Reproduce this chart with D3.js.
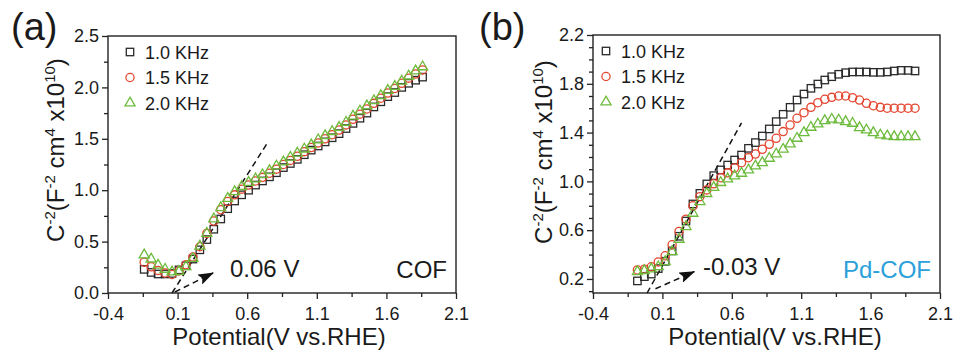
<!DOCTYPE html>
<html>
<head>
<meta charset="utf-8">
<script src="https://cdn.jsdelivr.net/npm/d3@7"></script>
<style>
  body { margin: 0; background: #fff; }
  text { font-family: "Liberation Sans", Arial, sans-serif; fill: #1a1a1a; }
</style>
</head>
<body>
<div id="chart"></div>
<script>
// potential values (V vs RHE) and C^-2 values (x1e10)
var potA = [-0.14, -0.09, -0.04, 0.01, 0.06, 0.11, 0.16, 0.21, 0.26, 0.31,
            0.36, 0.41, 0.46, 0.51, 0.56, 0.61, 0.66, 0.71, 0.76, 0.81,
            0.86, 0.91, 0.96, 1.01, 1.06, 1.11, 1.16, 1.21, 1.26, 1.31,
            1.36, 1.41, 1.46, 1.51, 1.56, 1.61, 1.66, 1.71, 1.76, 1.81, 1.86];
var cof10 = [0.23, 0.20, 0.185, 0.185, 0.19, 0.225, 0.265, 0.33, 0.42, 0.52,
             0.62, 0.72, 0.82, 0.895, 0.955, 1.00, 1.05, 1.09, 1.13, 1.17,
             1.22, 1.26, 1.30, 1.345, 1.39, 1.43, 1.47, 1.51, 1.55, 1.60,
             1.65, 1.70, 1.75, 1.81, 1.86, 1.91, 1.95, 2.00, 2.04, 2.07, 2.10];
var cof15 = [0.30, 0.255, 0.22, 0.195, 0.18, 0.215, 0.275, 0.35, 0.45, 0.58,
             0.70, 0.81, 0.89, 0.955, 1.01, 1.05, 1.09, 1.125, 1.165, 1.205,
             1.25, 1.29, 1.33, 1.375, 1.415, 1.46, 1.50, 1.54, 1.585, 1.635,
             1.69, 1.74, 1.79, 1.845, 1.895, 1.945, 1.99, 2.04, 2.09, 2.13, 2.17];
var cof20 = [0.37, 0.33, 0.27, 0.23, 0.205, 0.21, 0.255, 0.335, 0.455, 0.58,
             0.72, 0.83, 0.92, 0.985, 1.035, 1.075, 1.11, 1.15, 1.19, 1.235,
             1.275, 1.32, 1.36, 1.40, 1.44, 1.49, 1.53, 1.57, 1.61, 1.66,
             1.72, 1.77, 1.82, 1.87, 1.92, 1.97, 2.01, 2.06, 2.11, 2.16, 2.20];

var potB = [-0.08, -0.03, 0.02, 0.07, 0.12, 0.17, 0.22, 0.27, 0.32, 0.37,
            0.42, 0.47, 0.52, 0.57, 0.62, 0.67, 0.72, 0.77, 0.82, 0.87,
            0.92, 0.97, 1.02, 1.07, 1.12, 1.17, 1.22, 1.27, 1.32, 1.37,
            1.42, 1.47, 1.52, 1.57, 1.62, 1.67, 1.72, 1.77, 1.82, 1.87, 1.92];
var pd10 = [0.184, 0.219, 0.24, 0.285, 0.345, 0.43, 0.55, 0.675, 0.815, 0.902,
            0.979, 1.047, 1.094, 1.134, 1.175, 1.216, 1.271, 1.318, 1.372, 1.43,
            1.49, 1.55, 1.607, 1.667, 1.716, 1.763, 1.798, 1.831, 1.858, 1.878,
            1.891, 1.897, 1.897, 1.897, 1.894, 1.894, 1.897, 1.905, 1.91, 1.91, 1.905];
var pd15 = [0.274, 0.28, 0.30, 0.34, 0.39, 0.48, 0.59, 0.69, 0.80, 0.875,
            0.93, 0.98, 1.03, 1.07, 1.11, 1.153, 1.194, 1.224, 1.263, 1.304,
            1.353, 1.408, 1.462, 1.517, 1.563, 1.607, 1.645, 1.673, 1.689, 1.70,
            1.70, 1.686, 1.667, 1.64, 1.62, 1.607, 1.60, 1.60, 1.60, 1.60, 1.60];
var pd20 = [0.26, 0.268, 0.282, 0.30, 0.342, 0.424, 0.525, 0.629, 0.738, 0.834,
            0.90, 0.95, 0.99, 1.02, 1.045, 1.066, 1.093, 1.126, 1.153, 1.189,
            1.224, 1.263, 1.307, 1.353, 1.399, 1.443, 1.47, 1.498, 1.509, 1.503,
            1.489, 1.476, 1.44, 1.421, 1.399, 1.38, 1.372, 1.366, 1.366, 1.366, 1.366];

var freqLabels = ["1.0 KHz", "1.5 KHz", "2.0 KHz"];
var xTicks = [-0.4, 0.1, 0.6, 1.1, 1.6, 2.1];
var xMinor = [-0.15, 0.35, 0.85, 1.35, 1.85];
var yTicksA = [0.0, 0.5, 1.0, 1.5, 2.0, 2.5];
var yMinorA = [0.25, 0.75, 1.25, 1.75, 2.25];
var yTicksB = [0.2, 0.6, 1.0, 1.4, 1.8, 2.2];
var yMinorB = [0.1, 0.3, 0.4, 0.5, 0.7, 0.8, 0.9, 1.1, 1.2, 1.3, 1.5, 1.6, 1.7, 1.9, 2.0, 2.1];

// dashed tangent and arrow, in data units
var tangentA = [[0.06, 0.0], [0.75, 1.47]];
var arrowA = [[0.08, 0.01], [0.355, 0.195]];
var tangentB = [[-0.01, 0.085], [0.67, 1.48]];
var arrowB = [[0.05, 0.12], [0.33, 0.26]];

var colors = ["#2a2a2a", "#e4452f", "#6dbb3c"];

var svg = d3.select("#chart").append("svg")
    .attr("width", 956)
    .attr("height", 356);

svg.append("rect").attr("width", 956).attr("height", 356).attr("fill", "#fff");

var defs = svg.append("defs");
defs.append("marker")
    .attr("id", "arrowhead")
    .attr("viewBox", "0 0 16 11")
    .attr("refX", 15).attr("refY", 5.5)
    .attr("markerUnits", "userSpaceOnUse")
    .attr("markerWidth", 16).attr("markerHeight", 11)
    .attr("orient", "auto")
    .append("path")
    .attr("d", "M0,0 L16,5.5 L0,11 L3,5.5 Z")
    .attr("fill", "#111");

function drawMarker(g, kind, cx, cy, color) {
    if (kind == 0) {
        g.append("rect")
            .attr("x", cx - 3.7).attr("y", cy - 3.7)
            .attr("width", 7.4).attr("height", 7.4)
            .attr("fill", "none").attr("stroke", color).attr("stroke-width", 1.3);
    } else if (kind == 1) {
        g.append("circle")
            .attr("cx", cx).attr("cy", cy).attr("r", 4.1)
            .attr("fill", "none").attr("stroke", color).attr("stroke-width", 1.3);
    } else {
        g.append("path")
            .attr("d", d3.symbol(d3.symbolTriangle).size(44)())
            .attr("transform", "translate(" + cx + "," + cy + ")")
            .attr("fill", "none").attr("stroke", color).attr("stroke-width", 1.3);
    }
}

function drawPanel(p) {
    var x = d3.scaleLinear().domain([-0.4, 2.1]).range([p.left, p.right]);
    var y = d3.scaleLinear().domain(p.yDomain).range([p.bottom, p.top]);
    var g = svg.append("g");
    var fmt = function(d) { return d.toFixed(1); };

    // minor ticks
    g.append("g")
        .attr("transform", "translate(0," + p.bottom + ")")
        .call(d3.axisBottom(x).tickValues(xMinor).tickSize(4).tickFormat(""))
        .call(function(a) { a.select(".domain").remove(); });
    g.append("g")
        .attr("transform", "translate(" + p.left + ",0)")
        .call(d3.axisLeft(y).tickValues(p.yMinor).tickSize(4).tickFormat(""))
        .call(function(a) { a.select(".domain").remove(); });

    // major ticks
    var xa = g.append("g")
        .attr("transform", "translate(0," + p.bottom + ")")
        .call(d3.axisBottom(x).tickValues(xTicks).tickSize(6).tickPadding(8).tickFormat(fmt));
    var ya = g.append("g")
        .attr("transform", "translate(" + p.left + ",0)")
        .call(d3.axisLeft(y).tickValues(p.yTicks).tickSize(6).tickPadding(3).tickFormat(fmt));
    [xa, ya].forEach(function(a) {
        a.select(".domain").remove();
        a.selectAll("text").attr("font-size", 18).attr("fill", "#1a1a1a")
            .style("font-family", "'Liberation Sans', Arial, sans-serif");
    });
    g.selectAll(".tick line").attr("stroke", "#222").attr("stroke-width", 1.3);

    // frame
    g.append("rect")
        .attr("x", p.left).attr("y", p.top)
        .attr("width", p.right - p.left).attr("height", p.bottom - p.top)
        .attr("fill", "none").attr("stroke", "#222").attr("stroke-width", 1.4);

    // dashed tangent and arrow
    var line = d3.line().x(function(d) { return x(d[0]); }).y(function(d) { return y(d[1]); });
    g.append("path").attr("d", line(p.tangent))
        .attr("fill", "none").attr("stroke", "#111").attr("stroke-width", 1.5)
        .attr("stroke-dasharray", "6,4");
    g.append("path").attr("d", line(p.arrow))
        .attr("fill", "none").attr("stroke", "#111").attr("stroke-width", 1.5)
        .attr("stroke-dasharray", "6,4")
        .attr("marker-end", "url(#arrowhead)");

    // data points
    p.series.forEach(function(vals, k) {
        var sg = g.append("g");
        vals.forEach(function(v, i) {
            drawMarker(sg, k, x(p.pot[i]), y(v), colors[k]);
        });
    });

    // legend
    freqLabels.forEach(function(lab, k) {
        var cy = p.top + 16 + k * 25.5;
        drawMarker(g, k, p.legendX, cy, colors[k]);
        g.append("text").attr("x", p.legendX + 15).attr("y", cy + 6.5)
            .attr("font-size", 18).text(lab);
    });

    // labels
    g.append("text").attr("x", p.labelX).attr("y", 40)
        .attr("font-size", 38).text(p.label);

    g.append("text").attr("x", p.annX).attr("y", p.annY)
        .attr("font-size", 24).text(p.annText);

    g.append("text").attr("x", p.right - 9).attr("y", 278)
        .attr("text-anchor", "end").attr("font-size", 24)
        .style("fill", p.nameColor).text(p.name);

    g.append("text").attr("x", p.xTitleX).attr("y", 345)
        .attr("text-anchor", "middle").attr("font-size", 24)
        .text("Potential(V vs.RHE)");

    var yt = g.append("text")
        .attr("transform", "translate(" + p.yTitleX + "," + p.yTitleY + ") rotate(-90)")
        .attr("text-anchor", "middle").attr("font-size", 24);
    var parts = [["C", 0], ["-2", 1], ["(F", 0], ["-2", 1], [" cm", 0], ["4", 1], [" x10", 0], ["10", 1], [")", 0]];
    var prevSup = 0;
    parts.forEach(function(pt) {
        var t = yt.append("tspan").text(pt[0]);
        if (pt[1]) {
            t.attr("font-size", 15).attr("dy", -9);
        } else {
            t.attr("dy", prevSup ? 9 : 0);
        }
        prevSup = pt[1];
    });
}

drawPanel({
    left: 108, right: 456, top: 36, bottom: 293,
    yDomain: [0, 2.5], yTicks: yTicksA, yMinor: yMinorA,
    pot: potA, series: [cof10, cof15, cof20],
    tangent: tangentA, arrow: arrowA,
    legendX: 130, label: "(a)", labelX: 11,
    annText: "0.06 V", annX: 230, annY: 277,
    name: "COF", nameColor: "#1a1a1a",
    xTitleX: 279, yTitleX: 64, yTitleY: 150
});

drawPanel({
    left: 593, right: 940, top: 35, bottom: 293,
    yDomain: [0.085, 2.2], yTicks: yTicksB, yMinor: yMinorB,
    pot: potB, series: [pd10, pd15, pd20],
    tangent: tangentB, arrow: arrowB,
    legendX: 606, label: "(b)", labelX: 479,
    annText: "-0.03 V", annX: 703, annY: 275,
    name: "Pd-COF", nameColor: "#2ba0da",
    xTitleX: 775, yTitleX: 552, yTitleY: 152
});
</script>
</body>
</html>
